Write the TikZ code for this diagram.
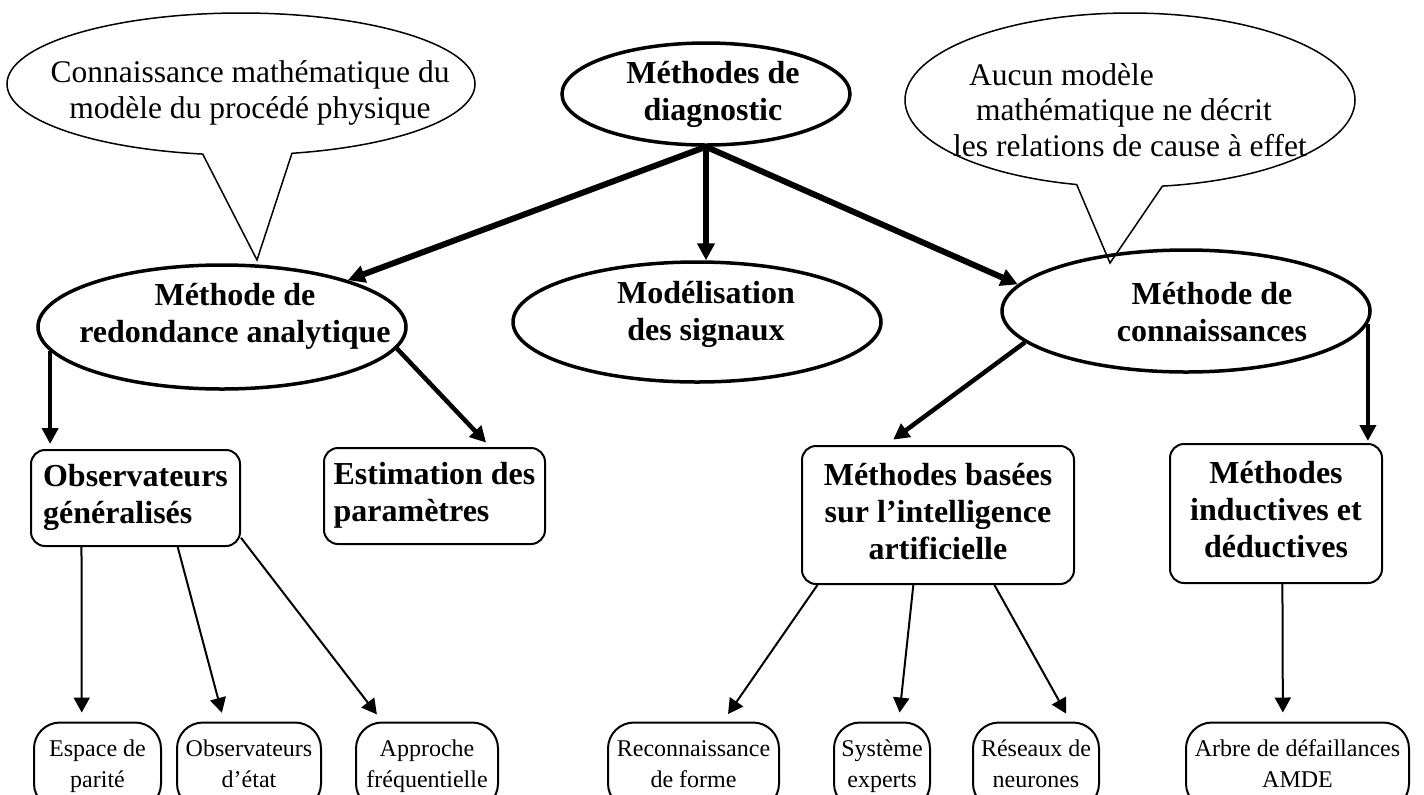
\documentclass[tikz,border=0pt]{standalone}
\usepackage{fontspec}
\setmainfont{Liberation Serif}
\usetikzlibrary{shapes.geometric,shapes.callouts,arrows.meta,calc}

\begin{document}
\begin{tikzpicture} [
                x=0.5pt, y=-0.5pt,
                method/.style={ellipse,draw,line width=1.75pt,inner sep=0pt},
                method text/.style={font=\fontsize{16}{18.5}\selectfont\bfseries,align=center,inner sep=0pt},
                family/.style={rectangle,draw,line width=1pt,rounded corners=7pt,inner sep=2pt,
                    font=\fontsize{16}{18.5}\selectfont\bfseries},
                leaf/.style={rectangle,draw,line width=1pt,rounded corners=13pt,minimum height=43.5pt,
                    inner sep=2pt,align=center,font=\fontsize{12}{15.5}\selectfont},
                bubble/.style={ellipse callout,draw,line width=0.75pt,fill=white,inner sep=0pt,
                    callout pointer arc=22},
                bubble text/.style={font=\fontsize{15.75}{17.75}\selectfont,inner sep=0pt},
                main arrow/.style={draw,line width=3pt,-{Triangle[length=8.5pt,width=8.5pt]}},
                sub arrow/.style={draw,line width=2.25pt,-{Triangle[length=8pt,width=8pt]}},
                leaf arrow/.style={draw,line width=1pt,-{Triangle[length=7.5pt,width=8pt]},shorten >=4.5pt},
            ]
            \useasboundingbox (0,0) rectangle (1424,794);
            % callouts
            \node[bubble,minimum width=234pt,minimum height=71pt,
                callout absolute pointer={(257,260)}] (hintL) at (241,84) {};
            \node[bubble text,align=center] (hintL-txt) at (250,93)
                {Connaissance mathématique du\\modèle du procédé physique};
            \node[bubble,minimum width=225pt,minimum height=87pt,
                callout absolute pointer={(1110,263)}] (hintR) at (1130,100) {};
            \node[bubble text,align=left] (hintR-txt) at (1130,110)
                {\hspace*{8pt}Aucun modèle\\\hspace*{11.5pt}mathématique ne décrit\\les relations de cause à effet};
            % methods
            \foreach \pos/\name/\boxwd/\boxht in {
                    {(706,94)/diag/144pt/51pt}, {(222,327)/redondance/184pt/62pt},
                    {(697,322)/signaux/184pt/60pt}, {(1186,311)/connaissances/184pt/61pt}}
                \node[method,minimum width=\boxwd,minimum height=\boxht] (\name) at \pos {};
            \foreach \pos/\name/\txt in {
                    {(713,94)/diag/Méthodes de\\diagnostic},
                    {(235,316)/redondance/Méthode de\\redondance analytique},
                    {(706,314)/signaux/Modélisation\\des signaux},
                    {(1212,312)/connaissances/Méthode de\\connaissances}}
                \node[method text] (\name-txt) at \pos {\txt};
            % families
            \node[family,minimum width=104.5pt,minimum height=48pt,align=left] (obs) at (135.5,498)
                {\strut Observateurs\\\strut généralisés};
            \node[family,minimum width=110.5pt,minimum height=48pt,align=left] (estim) at (434.5,496)
                {\strut Estimation des\\\strut paramètres};
            \node[family,minimum width=136pt,minimum height=69pt,align=center] (ia) at (938,515)
                {\strut Méthodes basées\\\strut sur l’intelligence\\\strut artificielle};
            \node[family,minimum width=106pt,minimum height=69.5pt,align=center] (inductives) at (1276,513.5)
                {\strut Méthodes\\\strut inductives et\\\strut déductives};
            % leaves
            \foreach \pos/\name/\boxwd/\lineA/\lineB in {
                    {(97.5,766)/espace/63.5pt/Espace de/parité},
                    {(249,766)/etat/72pt/Observateurs/d’état},
                    {(427,766)/freq/71pt/Approche/fréquentielle},
                    {(693.5,766)/forme/85.5pt/Reconnaissance/de forme},
                    {(882,766)/experts/48pt/Système/experts},
                    {(1036,766)/neurones/63pt/Réseaux de/neurones},
                    {(1297.5,766)/amde/111.5pt/Arbre de défaillances/AMDE}}
                \node[leaf,minimum width=\boxwd] (\name) at \pos {\strut\lineA\\\strut\lineB};
            % arrows
            \path[main arrow] (diag.south) -- (redondance);
            \path[main arrow] (diag.south) -- (diag.south |- signaux.north);
            \path[main arrow] (diag.south) -- (connaissances.171);
            \path[sub arrow,shorten >=2.5pt] (redondance.188) -- (redondance.188 |- obs.north);
            \path[sub arrow,shorten >=3pt] (redondance.-7) -- ($(estim.north west)!0.75!(estim.north east)$);
            \path[sub arrow,shorten >=4.5pt] (connaissances.191) -- ($(ia.north west)!0.31!(ia.north east)$);
            \path[sub arrow,shorten >=1pt] (connaissances.-4) -- (connaissances.-4 |- inductives.north);
            \foreach \source/\a/\dest/\b in {
                    obs/0.244/espace/0.378, obs/0.70/etat/0.33,
                    ia/0.06/forme/0.67, ia/0.41/experts/0.67, ia/0.706/neurones/0.77,
                    inductives/0.53/amde/0.435}
                \path[leaf arrow] ($(\source.south west)!\a!(\source.south east)$)
                    -- ($(\dest.north west)!\b!(\dest.north east)$);
            \path[leaf arrow] ($(obs.south east)!0.094!(obs.north east)$)
                -- ($(freq.north west)!0.19!(freq.north east)$);
        \end{tikzpicture}
\end{document}
